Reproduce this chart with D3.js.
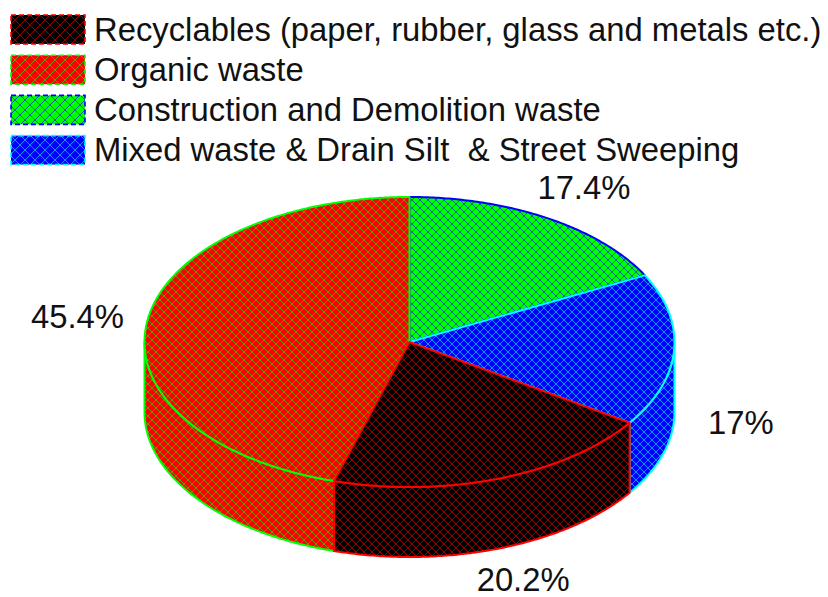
<!DOCTYPE html>
<html>
<head>
<meta charset="utf-8">
<script src="https://cdn.jsdelivr.net/npm/d3@7"></script>
<style>
  html, body { margin: 0; padding: 0; background: #ffffff; }
  svg { display: block; }
</style>
</head>
<body>
<script>
// Composition of municipal solid waste
const categories = [
  "Recyclables (paper, rubber, glass and metals etc.)",
  "Organic waste",
  "Construction and Demolition waste",
  "Mixed waste & Drain Silt  & Street Sweeping"
];
const shares = [20.2, 45.4, 17.4, 17];
const valueLabels = ["20.2%", "45.4%", "17.4%", "17%"];
const fillColors = ["#000000", "#ff0000", "#00ff00", "#0000ff"];
const lineColors = ["#ff0000", "#00ff00", "#0000ff", "#00ffff"];
// slices run clockwise from twelve o'clock in this order
const sliceOrder = [2, 3, 0, 1];

const W = 828, H = 597;
const FONT = "'Liberation Sans', Arial, sans-serif";
const FS = 32.8;

const svg = d3.select("body").append("svg")
  .attr("width", W).attr("height", H)
  .attr("viewBox", `0 0 ${W} ${H}`);
const defs = svg.append("defs");

// cross-hatch fill: solid colour with one-pixel diagonal lines in the outline colour
function hatch(id, i, size, lw, opacity) {
  const p = defs.append("pattern")
    .attr("id", id)
    .attr("patternUnits", "userSpaceOnUse")
    .attr("width", size).attr("height", size);
  p.append("rect").attr("width", size).attr("height", size).attr("fill", fillColors[i]);
  const h = size / 2;
  p.append("path")
    .attr("d", `M0,${h}L${h},0M${h},${size}L${size},${h}M0,${h}L${h},${size}M${h},0L${size},${h}`)
    .attr("stroke", lineColors[i])
    .attr("stroke-width", lw)
    .attr("stroke-opacity", opacity)
    .attr("fill", "none");
}
categories.forEach((c, i) => {
  hatch("pie-hatch-" + i, i, 8, 0.8, 0.75);
  hatch("key-hatch-" + i, i, 10, 0.8, 0.75);
});

// ---- legend ----
const keyX = 11, keyY = 15, keyStep = 40.2, keyW = 74, keyH = 29;
const key = svg.append("g");
categories.forEach((c, i) => {
  const y = keyY + i * keyStep;
  key.append("rect")
    .attr("x", keyX).attr("y", y)
    .attr("width", keyW).attr("height", keyH)
    .attr("fill", `url(#key-hatch-${i})`)
    .attr("stroke", lineColors[i])
    .attr("stroke-width", 1.6)
    .attr("stroke-dasharray", "5,3");
  key.append("text")
    .attr("x", keyX + keyW + 9)
    .attr("y", y + keyH / 2 + 11)
    .attr("font-family", FONT)
    .attr("font-size", FS)
    .attr("fill", "#111")
    .style("white-space", "pre")
    .text(c);
});

// ---- 3-D pie ----
const cx = 409.5, cy = 342, rx = 265, ry = 145, depth = 70;
const px = a => cx + rx * Math.sin(a);
const py = a => cy - ry * Math.cos(a);

const arcs = d3.pie().sort(null).value(i => shares[i])(sliceOrder);
const arcOf = {};
arcs.forEach(d => { arcOf[d.data] = d; });

function sampleAngles(a0, a1) {
  const n = Math.max(2, Math.ceil((a1 - a0) / 0.01));
  return d3.range(n + 1).map(k => a0 + (a1 - a0) * k / n);
}
const line = d3.line();

function topPath(d) {
  const pts = [[cx, cy]].concat(sampleAngles(d.startAngle, d.endAngle).map(a => [px(a), py(a)]));
  return line(pts) + "Z";
}
function sidePath(d) {
  const a0 = Math.max(d.startAngle, Math.PI / 2);
  const a1 = Math.min(d.endAngle, 3 * Math.PI / 2);
  if (a1 <= a0) return null;
  const angs = sampleAngles(a0, a1);
  const upper = angs.map(a => [px(a), py(a)]);
  const lower = angs.slice().reverse().map(a => [px(a), py(a) + depth]);
  return line(upper.concat(lower)) + "Z";
}

const pie = svg.append("g");
// side walls, the recyclables wall last so its edges stay on top
[1, 3, 0].forEach(i => {
  const p = sidePath(arcOf[i]);
  if (!p) return;
  pie.append("path")
    .attr("d", p)
    .attr("fill", `url(#pie-hatch-${i})`)
    .attr("stroke", lineColors[i])
    .attr("stroke-width", 2)
    .attr("stroke-linejoin", "round");
});
// top faces
[2, 1, 3, 0].forEach(i => {
  pie.append("path")
    .attr("d", topPath(arcOf[i]))
    .attr("fill", `url(#pie-hatch-${i})`)
    .attr("stroke", lineColors[i])
    .attr("stroke-width", 2)
    .attr("stroke-linejoin", "round");
});

// ---- value labels, set just outside each slice's outer edge ----
const gap = 24;
const labels = svg.append("g");
arcs.forEach(d => {
  const i = d.data;
  const a = (d.startAngle + d.endAngle) / 2;
  const s = Math.sin(a), c = Math.cos(a);
  const front = c < 0;
  const ax = px(a), ay = py(a) + (front ? depth : 0);
  const t = labels.append("text")
    .attr("font-family", FONT)
    .attr("font-size", FS)
    .attr("fill", "#111")
    .attr("text-anchor", "middle")
    .text(valueLabels[i]);
  const halfW = t.node().getComputedTextLength() / 2;
  const halfH = 0.36 * FS;
  const lx = ax + gap * s + halfW * s + (Math.abs(s) > 0.95 && s > 0 ? 10 : 0);
  const ly = ay - gap * c - halfH * c;
  // keep the baseline clear of the bottom edge
  t.attr("x", lx).attr("y", Math.min(ly + halfH, H - 6));
});
</script>
</body>
</html>
